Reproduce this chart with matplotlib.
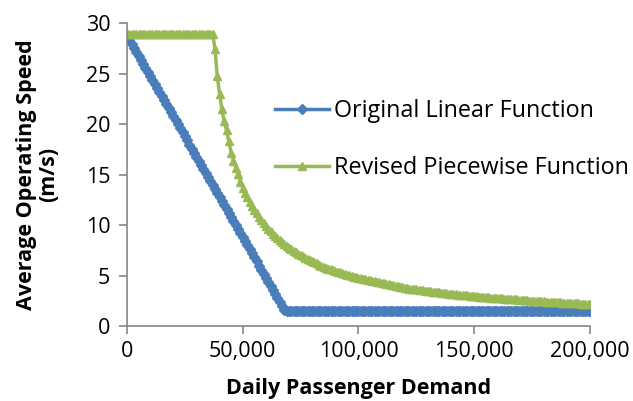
import matplotlib
matplotlib.use("Agg")
import matplotlib.pyplot as plt
from matplotlib.ticker import FuncFormatter

plt.rcParams['font.family'] = ['Open Sans', 'DejaVu Sans']

# daily passenger demand, sampled every 1,000
demand = list(range(0, 200001, 1000))

# original linear function (m/s)
original = [
    28.8, 28.4, 28.0, 27.6, 27.2, 26.8, 26.4, 26.0, 25.6, 25.2,
    24.8, 24.4, 24.0, 23.6, 23.2, 22.8, 22.4, 22.0, 21.6, 21.2,
    20.8, 20.4, 20.0, 19.6, 19.2, 18.8, 18.4, 18.0, 17.6, 17.2,
    16.8, 16.4, 16.0, 15.6, 15.2, 14.8, 14.4, 14.0, 13.6, 13.2,
    12.8, 12.4, 12.0, 11.6, 11.2, 10.8, 10.4, 10.0, 9.6, 9.2,
    8.8, 8.4, 8.0, 7.6, 7.2, 6.8, 6.4, 6.0, 5.6, 5.2,
    4.8, 4.4, 4.0, 3.6, 3.2, 2.8, 2.4, 2.0, 1.6, 1.5,
    1.5, 1.5, 1.5, 1.5, 1.5, 1.5, 1.5, 1.5, 1.5, 1.5,
    1.5, 1.5, 1.5, 1.5, 1.5, 1.5, 1.5, 1.5, 1.5, 1.5,
    1.5, 1.5, 1.5, 1.5, 1.5, 1.5, 1.5, 1.5, 1.5, 1.5,
    1.5, 1.5, 1.5, 1.5, 1.5, 1.5, 1.5, 1.5, 1.5, 1.5,
    1.5, 1.5, 1.5, 1.5, 1.5, 1.5, 1.5, 1.5, 1.5, 1.5,
    1.5, 1.5, 1.5, 1.5, 1.5, 1.5, 1.5, 1.5, 1.5, 1.5,
    1.5, 1.5, 1.5, 1.5, 1.5, 1.5, 1.5, 1.5, 1.5, 1.5,
    1.5, 1.5, 1.5, 1.5, 1.5, 1.5, 1.5, 1.5, 1.5, 1.5,
    1.5, 1.5, 1.5, 1.5, 1.5, 1.5, 1.5, 1.5, 1.5, 1.5,
    1.5, 1.5, 1.5, 1.5, 1.5, 1.5, 1.5, 1.5, 1.5, 1.5,
    1.5, 1.5, 1.5, 1.5, 1.5, 1.5, 1.5, 1.5, 1.5, 1.5,
    1.5, 1.5, 1.5, 1.5, 1.5, 1.5, 1.5, 1.5, 1.5, 1.5,
    1.5, 1.5, 1.5, 1.5, 1.5, 1.5, 1.5, 1.5, 1.5, 1.5,
    1.5,
]

# revised piecewise function (m/s)
revised = [
    29.0, 29.0, 29.0, 29.0, 29.0, 29.0, 29.0, 29.0, 29.0, 29.0,
    29.0, 29.0, 29.0, 29.0, 29.0, 29.0, 29.0, 29.0, 29.0, 29.0,
    29.0, 29.0, 29.0, 29.0, 29.0, 29.0, 29.0, 29.0, 29.0, 29.0,
    29.0, 29.0, 29.0, 29.0, 29.0, 29.0, 29.0, 29.0, 27.5, 24.8,
    23.0, 21.5, 20.3, 19.4, 18.3, 17.2, 16.4, 15.7, 15.1, 14.3,
    13.7, 13.2, 12.8, 12.3, 11.9, 11.5, 11.2, 10.8, 10.5, 10.2,
    9.9, 9.6, 9.4, 9.1, 8.9, 8.7, 8.5, 8.3, 8.1, 7.9,
    7.7, 7.6, 7.4, 7.3, 7.1, 7.0, 6.9, 6.7, 6.6, 6.5,
    6.4, 6.3, 6.2, 6.1, 6.0, 5.9, 5.8, 5.7, 5.65, 5.55,
    5.5, 5.4, 5.35, 5.25, 5.2, 5.1, 5.05, 5.0, 4.9, 4.85,
    4.8, 4.75, 4.7, 4.65, 4.6, 4.55, 4.5, 4.45, 4.4, 4.35,
    4.3, 4.25, 4.2, 4.15, 4.1, 4.05, 4.0, 3.95, 3.9, 3.85,
    3.8, 3.75, 3.72, 3.69, 3.66, 3.63, 3.6, 3.57, 3.54, 3.51,
    3.48, 3.45, 3.42, 3.39, 3.36, 3.33, 3.3, 3.27, 3.24, 3.21,
    3.18, 3.16, 3.14, 3.12, 3.1, 3.08, 3.05, 3.03, 3.0, 2.98,
    2.96, 2.94, 2.92, 2.9, 2.88, 2.86, 2.84, 2.82, 2.8, 2.78,
    2.76, 2.74, 2.73, 2.71, 2.7, 2.68, 2.66, 2.65, 2.63, 2.61,
    2.6, 2.58, 2.57, 2.55, 2.53, 2.52, 2.5, 2.49, 2.47, 2.46,
    2.44, 2.43, 2.41, 2.4, 2.38, 2.37, 2.36, 2.34, 2.33, 2.32,
    2.3, 2.29, 2.28, 2.26, 2.25, 2.24, 2.23, 2.21, 2.2, 2.19,
    2.18,
]

x_ticks = [0, 50000, 100000, 150000, 200000]
y_ticks = [0, 5, 10, 15, 20, 25, 30]

blue = "#4A7EBB"
green = "#98B954"
axis_col = "#868686"

fig = plt.figure(figsize=(6.33, 4.01), dpi=100)
ax = fig.add_axes([0.2006, 0.187, 0.7314, 0.7544])

ax.plot(demand, original, color=blue, lw=2.5, marker="D", ms=4.6,
        label="Original Linear Function")
ax.plot(demand, revised, color=green, lw=2.5, marker="^", ms=5.2,
        label="Revised Piecewise Function")

ax.set_xlim(0, 200000)
ax.set_ylim(0, 30)
ax.set_xticks(x_ticks)
ax.set_yticks(y_ticks)
ax.xaxis.set_major_formatter(FuncFormatter(lambda v, p: f"{int(v):,}"))

for s in ["top", "right"]:
    ax.spines[s].set_visible(False)
for s in ["left", "bottom"]:
    ax.spines[s].set_color(axis_col)
    ax.spines[s].set_linewidth(1.2)
ax.tick_params(axis="both", colors=axis_col, length=6, width=1.2,
               labelcolor="black", labelsize=15.5)
ax.tick_params(axis="y", pad=6)
ax.tick_params(axis="x", pad=5)

ax.set_xlabel("Daily Passenger Demand", fontsize=15.5, fontweight="bold",
              labelpad=11)
ax.set_ylabel("Average Operating Speed\n(m/s)", fontsize=15.5,
              fontweight="bold", linespacing=1.05, labelpad=19)

leg = ax.legend(loc="upper left", bbox_to_anchor=(0.3, 0.78), frameon=False,
                fontsize=16.8, handlelength=2.3, handletextpad=0.2,
                labelspacing=1.4, borderaxespad=0)

fig.savefig("out.png", dpi=100)
